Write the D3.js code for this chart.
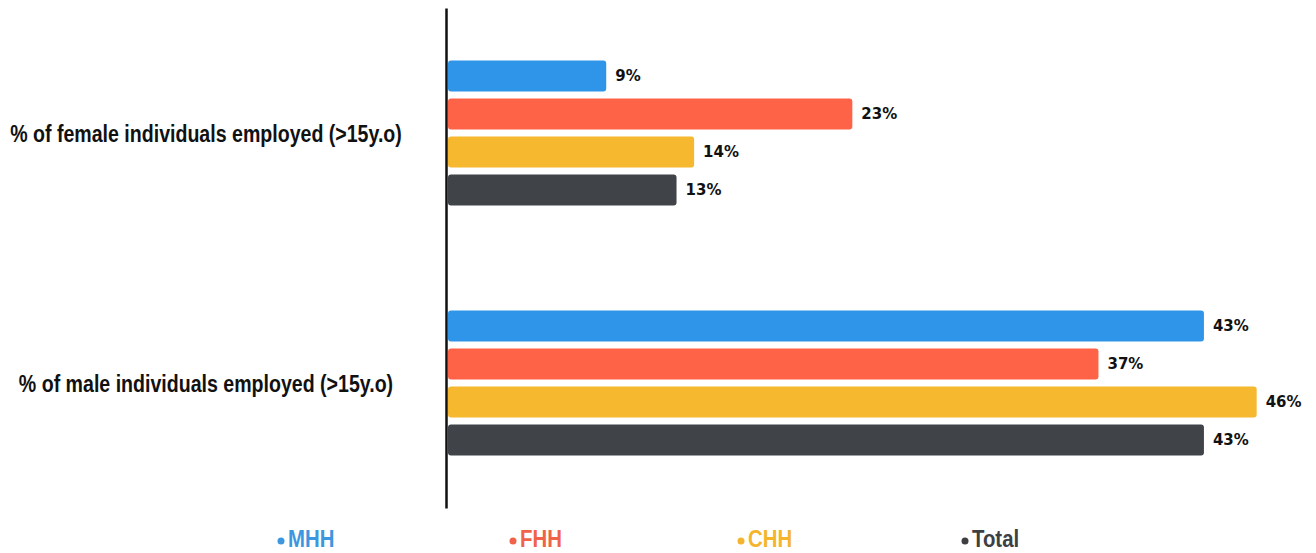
<!DOCTYPE html>
<html><head><meta charset="utf-8">
<script src="https://cdn.jsdelivr.net/npm/d3@7"></script>
<style>body{margin:0;background:#fff;}svg{display:block;}</style>
</head><body>
<svg id="c" width="1316" height="553"></svg>
<script>
const categories = ["% of female individuals employed (>15y.o)", "% of male individuals employed (>15y.o)"];
const seriesNames = ["MHH", "FHH", "CHH", "Total"];
const MHH = [9, 43];
const FHH = [23, 37];
const CHH = [14, 46];
const Total = [13, 43];
const colors = ["#2f95e9", "#ff6347", "#f6b82e", "#404348"];
const legendColors = ["#3d96e0", "#f0634a", "#f4b52c", "#3d3f43"];

const seriesValues = [MHH, FHH, CHH, Total];
const svg = d3.select("#c");
const x = d3.scaleLinear().domain([0, 50]).range([448, 448 + 50 * 17.58]);
const y0 = d3.scaleBand().domain(categories).range([8, 508]).paddingInner(0.392).paddingOuter(0.196);
const y1 = d3.scaleBand().domain(seriesNames).range([0, y0.bandwidth()]).paddingInner(0.18).paddingOuter(0.09);

const data = [];
categories.forEach((c, ci) => seriesNames.forEach((s, si) => data.push({c, s, si, v: seriesValues[si][ci]})));

svg.selectAll("rect.bar").data(data).join("rect").attr("class", "bar")
  .attr("x", x(0)).attr("y", d => y0(d.c) + y1(d.s))
  .attr("width", d => x(d.v) - x(0)).attr("height", y1.bandwidth())
  .attr("rx", 3).attr("fill", d => colors[d.si]);

svg.selectAll("text.val").data(data).join("text").attr("class", "val")
  .attr("x", d => x(d.v) + 9).attr("y", d => y0(d.c) + y1(d.s) + y1.bandwidth() / 2)
  .attr("dy", "0.36em").attr("font-family", "DejaVu Sans").attr("font-weight", "bold")
  .attr("font-size", 15).attr("fill", "#111").text(d => d.v + "%");

// axis
const yAxis = d3.axisLeft(y0).tickSize(0).tickFormat("");
const ag = svg.append("g").attr("transform", "translate(446,0)").call(yAxis);
ag.select(".domain").attr("stroke", "#111").attr("stroke-width", 2.5);

const condFont = "Liberation Sans Narrow, Arial Narrow, Liberation Sans, Arial, sans-serif";
const cats = svg.selectAll("text.cat").data(categories).join("text").attr("class", "cat")
  .attr("text-anchor", "middle").attr("dy", "0.36em")
  .attr("font-family", condFont).attr("font-weight", "bold")
  .attr("font-size", 23).attr("fill", "#111").text(d => d);
const len = cats.node().getComputedTextLength();
const f = Math.min(1, 392 / len);
cats.attr("transform", d => `translate(206,${y0(d) + y0.bandwidth() / 2}) scale(${f},1.05)`);

// legend
const lx = [281, 513, 741, 965];
const lg = svg.selectAll("g.leg").data(seriesNames).join("g").attr("class", "leg")
  .attr("transform", (d, i) => `translate(${lx[i]},541)`);
lg.append("circle").attr("r", 3.5).attr("fill", (d, i) => legendColors[i]);
lg.append("text")
  .attr("transform", `translate(7,6) scale(0.97,1.15)`)
  .attr("font-family", condFont).attr("font-weight", "bold")
  .attr("font-size", 21).attr("fill", (d, i) => legendColors[i]).text(d => d);
</script>
</body></html>
